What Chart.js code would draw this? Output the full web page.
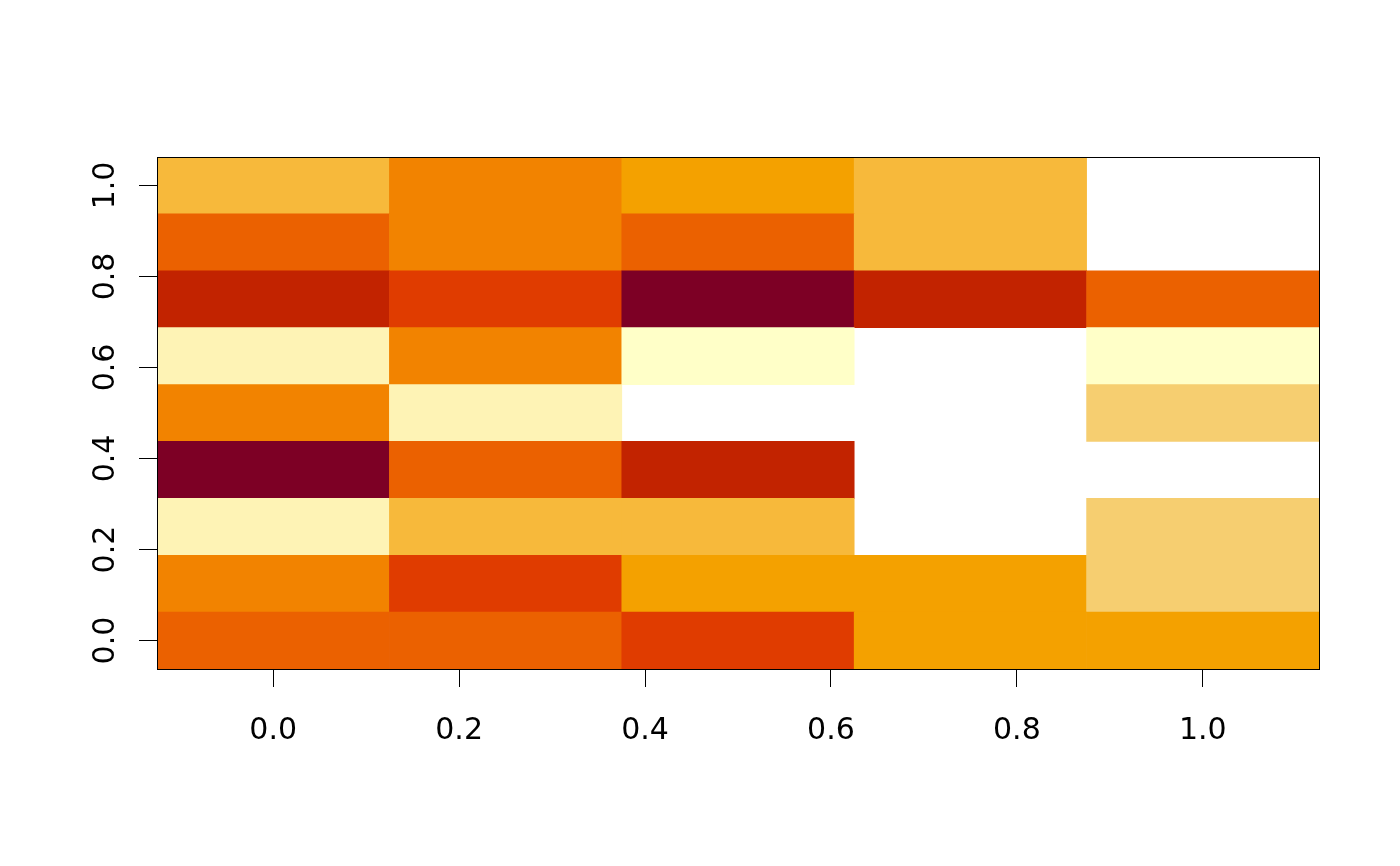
<!DOCTYPE html>
<html>
<head>
<meta charset="utf-8">
<script src="https://cdn.jsdelivr.net/npm/chart.js@4/dist/chart.umd.min.js"></script>
<style>
  html, body { margin: 0; padding: 0; background: #ffffff; }
  #wrap { width: 1400px; height: 866px; }
</style>
</head>
<body>
<div id="wrap"><canvas id="c" width="1400" height="866"></canvas></div>
<script>
// Cell centres
const xCenters = [0, 0.25, 0.5, 0.75, 1.0];
const yCenters = [0, 0.125, 0.25, 0.375, 0.5, 0.625, 0.75, 0.875, 1.0];

// Tick values and labels
const xTickValues = [0, 0.2, 0.4, 0.6, 0.8, 1.0];
const xTickLabels = ['0.0', '0.2', '0.4', '0.6', '0.8', '1.0'];
const yTickValues = [0, 0.2, 0.4, 0.6, 0.8, 1.0];
const yTickLabels = ['0.0', '0.2', '0.4', '0.6', '0.8', '1.0'];

// Colour levels (1 = darkest ... 10 = lightest), null = missing
const z_y000 = [4, 4, 3, 6, 6];
const z_y125 = [5, 3, 6, 6, 8];
const z_y250 = [9, 7, 7, null, 8];
const z_y375 = [1, 4, 2, null, null];
const z_y500 = [5, 9, null, null, 8];
const z_y625 = [9, 5, 10, null, 10];
const z_y750 = [2, 3, 1, 2, 4];
const z_y875 = [4, 5, 4, 7, null];
const z_y1000 = [7, 5, 6, 7, null];
const zRows = [z_y000, z_y125, z_y250, z_y375, z_y500, z_y625, z_y750, z_y875, z_y1000];

const palette = ['#7D0025', '#C22300', '#E03C00', '#EB6100', '#F28300',
                 '#F4A100', '#F7B93B', '#F6CE70', '#FEF3B5', '#FFFFC8'];

const halfH = (yCenters[1] - yCenters[0]) / 2;
const halfW = (xCenters[1] - xCenters[0]) / 2;

const datasets = zRows.map((row, r) => ({
  label: 'y=' + yCenters[r],
  data: row.map(v => v == null ? null : [yCenters[r] - halfH, yCenters[r] + halfH]),
  backgroundColor: row.map(v => v == null ? 'rgba(0,0,0,0)' : palette[v - 1]),
  borderWidth: 0,
  grouped: false,
  barPercentage: 1,
  categoryPercentage: 1,
  xAxisID: 'xc',
  yAxisID: 'y'
}));

const boxPlugin = {
  id: 'box',
  afterDatasetsDraw(chart) {
    const a = chart.chartArea;
    const ctx = chart.ctx;
    ctx.save();
    ctx.strokeStyle = '#000';
    ctx.lineWidth = 1;
    ctx.strokeRect(Math.round(a.left) + 0.5, Math.round(a.top) + 0.5,
                   Math.round(a.right - a.left), Math.round(a.bottom - a.top));
    ctx.restore();
  }
};

const tickFont = { family: 'DejaVu Sans', size: 30 };

new Chart(document.getElementById('c'), {
  type: 'bar',
  data: { labels: xCenters.map(String), datasets },
  options: {
    responsive: false,
    animation: false,
    devicePixelRatio: 1,
    layout: { padding: { top: 157, right: 81, left: 0, bottom: 0 } },
    plugins: { legend: { display: false }, tooltip: { enabled: false } },
    scales: {
      xc: {
        type: 'category',
        display: false,
        offset: true
      },
      x: {
        type: 'linear',
        position: 'bottom',
        offset: false,
        min: xCenters[0] - halfW,
        max: xCenters[xCenters.length - 1] + halfW,
        afterBuildTicks(scale) { scale.ticks = xTickValues.map(v => ({ value: v })); },
        afterFit(scale) { scale.height = 197; },
        grid: { offset: false, drawOnChartArea: false, drawTicks: true, tickLength: 18, color: '#000', lineWidth: 1 },
        border: { display: true, color: '#000', width: 1 },
        ticks: {
          autoSkip: false,
          maxRotation: 0,
          minRotation: 0,
          padding: 26,
          color: '#000',
          font: tickFont,
          callback: (v, i) => xTickLabels[i]
        }
      },
      y: {
        type: 'linear',
        position: 'left',
        offset: false,
        min: yCenters[0] - halfH,
        max: yCenters[yCenters.length - 1] + halfH,
        afterBuildTicks(scale) { scale.ticks = yTickValues.map(v => ({ value: v })); },
        afterFit(scale) { scale.width = 157; },
        grid: { offset: false, drawOnChartArea: false, drawTicks: true, tickLength: 18, color: '#000', lineWidth: 1 },
        border: { display: true, color: '#000', width: 1 },
        ticks: {
          autoSkip: false,
          minRotation: 90,
          maxRotation: 90,
          crossAlign: 'center',
          padding: 9,
          color: '#000',
          font: tickFont,
          callback: (v, i) => yTickLabels[i]
        }
      }
    }
  },
  plugins: [boxPlugin]
});
</script>
</body>
</html>
